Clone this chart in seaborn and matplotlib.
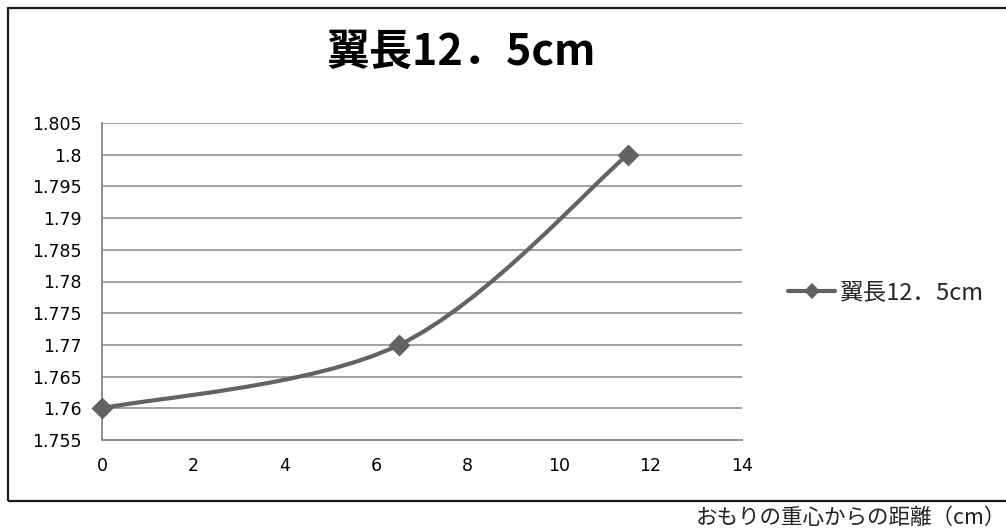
import numpy as np
import pandas as pd
import matplotlib
matplotlib.use("Agg")
import matplotlib.pyplot as plt
from matplotlib.path import Path
from matplotlib.patches import PathPatch, Rectangle
from matplotlib.lines import Line2D
import seaborn as sns

# Data: distance of the weight's centre of gravity vs. measured value
series_name = "翼長12．5cm"
distance = [0.0, 6.5, 11.5]
value = [1.76, 1.77, 1.80]

x_ticks = [0, 2, 4, 6, 8, 10, 12, 14]
y_ticks = [1.755, 1.76, 1.765, 1.77, 1.775, 1.78, 1.785, 1.79, 1.795, 1.80, 1.805]
y_tick_labels = ["1.755", "1.76", "1.765", "1.77", "1.775", "1.78",
                 "1.785", "1.79", "1.795", "1.8", "1.805"]

title = "翼長12．5cm"
x_label = "おもりの重心からの距離（cm）"

df = pd.DataFrame({"distance": distance, "value": value})

sns.set_style("white")
plt.rcParams["font.family"] = ["Noto Sans CJK JP", "DejaVu Sans"]

LINE_COLOR = "#636363"
GRID_COLOR = "#878787"

W, H = 1006, 530
fig = plt.figure(figsize=(W / 100, H / 100), dpi=100)
ax = fig.add_axes([102 / W, (H - 440) / H, (742 - 102) / W, (440 - 123) / H])

ax.set_xlim(0, 14)
ax.set_ylim(1.755, 1.805)

# horizontal gridlines
for yv in y_ticks[1:]:
    ax.axhline(yv, color=GRID_COLOR, lw=1.1, zorder=1)

# smoothed connecting curve (cubic Bezier segments, tension 1/6)
pts = np.column_stack([df["distance"], df["value"]])
n = len(pts)
verts = [tuple(pts[0])]
codes = [Path.MOVETO]
for i in range(n - 1):
    p_prev = pts[i - 1] if i > 0 else pts[i]
    p0 = pts[i]
    p1 = pts[i + 1]
    p_next = pts[i + 2] if i + 2 < n else pts[i + 1]
    c1 = p0 + (p1 - p_prev) / 6.0
    c2 = p1 - (p_next - p0) / 6.0
    verts += [tuple(c1), tuple(c2), tuple(p1)]
    codes += [Path.CURVE4] * 3
curve = PathPatch(Path(verts, codes), facecolor="none", edgecolor=LINE_COLOR,
                  lw=3.0, capstyle="round", joinstyle="round", zorder=3)
ax.add_patch(curve)

sns.scatterplot(data=df, x="distance", y="value", marker="D", s=125,
                color=LINE_COLOR, edgecolor=LINE_COLOR, linewidth=0,
                ax=ax, zorder=4, clip_on=False, legend=False)

ax.set_xticks(x_ticks)
ax.set_xticklabels([str(t) for t in x_ticks])
ax.set_yticks(y_ticks)
ax.set_yticklabels(y_tick_labels)
ax.set_xlabel("")
ax.set_ylabel("")

for side in ["top", "right"]:
    ax.spines[side].set_visible(False)
for side in ["left", "bottom"]:
    ax.spines[side].set_color(GRID_COLOR)
    ax.spines[side].set_linewidth(1.3)

ax.tick_params(axis="both", which="major", direction="inout", length=9,
               width=1.1, color=GRID_COLOR, labelsize=12.5, labelcolor="black")
ax.tick_params(axis="y", pad=10)
ax.tick_params(axis="x", pad=8)
for lab in ax.get_xticklabels() + ax.get_yticklabels():
    lab.set_family("DejaVu Sans")

# chart title
fig.text(461 / W, 1 - 52 / H, title, ha="center", va="center",
         fontsize=31, fontweight="bold", color="black")

# legend
handle = Line2D([], [], color=LINE_COLOR, lw=3.0, marker="D", markersize=8,
                markerfacecolor=LINE_COLOR, markeredgewidth=0)
fig.legend([handle], [series_name], loc="center left",
           bbox_to_anchor=(788 / W, 1 - 293 / H), frameon=False,
           fontsize=17, handlelength=2.0, handletextpad=0.2,
           borderpad=0, borderaxespad=0)

# chart area border
fig.patches.append(Rectangle((8 / W, 1 - 501 / H), (W + 10 - 8) / W, (501 - 8) / H,
                             transform=fig.transFigure, fill=False,
                             edgecolor="#1a1a1a", lw=1.6, zorder=0))

# x-axis title below the chart area
fig.text(1006 / W, 1 - 518 / H, x_label, ha="right", va="center",
         fontsize=15.5, color="#222222")

fig.savefig("out.png", dpi=100)
